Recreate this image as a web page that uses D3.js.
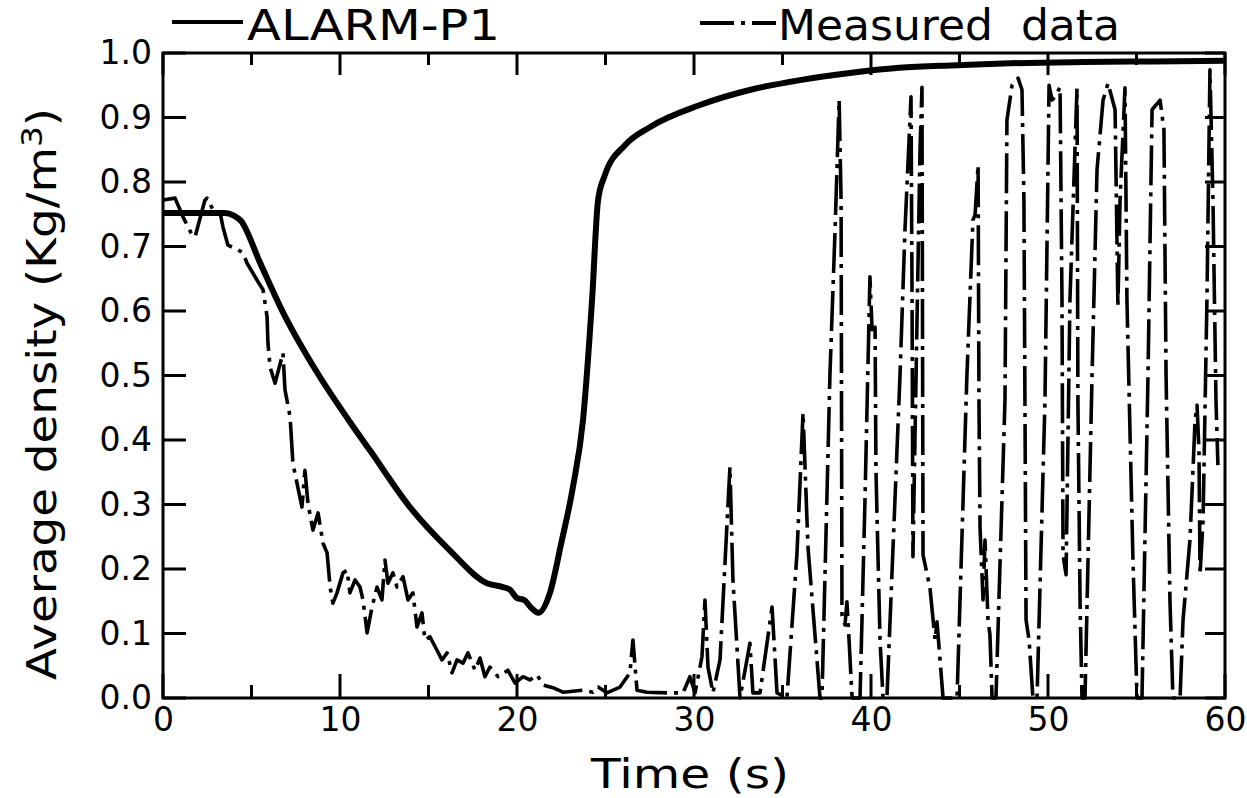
<!DOCTYPE html>
<html>
<head>
<meta charset="utf-8">
<script src="https://d3js.org/d3.v7.min.js"></script>
<style>
    body { margin: 0; background: #fff; }
    text { font-family: "DejaVu Sans", sans-serif; fill: #000; }
    .domain { display: none; }
</style>
</head>
<body>
<svg></svg>
<script>
// ALARM-P1 calculation (thick solid line)
const alarmT = [0, 2, 3.5, 4.0, 4.4, 5.48, 6.78, 8.7, 10.56, 11.69, 13.95, 16.2, 18.3, 19.2, 19.6, 20.0, 20.4, 20.8, 21.2,
    21.86, 22.5, 23.16, 23.73, 24.24, 24.58, 24.97, 26.1, 27.5, 30.3, 33.2, 36.0, 38.8, 41.6, 44.9, 47.85, 52, 56, 60];
const alarmV = [0.752, 0.752, 0.752, 0.748, 0.74, 0.675, 0.598, 0.505, 0.428, 0.384, 0.296, 0.229, 0.178, 0.172, 0.168, 0.155, 0.152, 0.14, 0.132,
    0.163, 0.24, 0.327, 0.431, 0.617, 0.772, 0.811, 0.857, 0.885, 0.919, 0.943, 0.958, 0.969, 0.977, 0.981, 0.984, 0.986, 0.987, 0.988];

// Measured data (dash-dot line)
const measT = [0, 0.68, 1.13, 1.64, 1.81, 2.37, 2.49, 2.82, 3.22, 3.39, 3.67, 4.24, 4.52, 4.75, 5.31, 5.65, 5.88, 5.93, 6.05, 6.33,
    6.78, 6.89, 7.18, 7.34, 7.57, 7.85, 8.02, 8.19, 8.47, 8.76, 9.04, 9.27, 9.44, 9.6, 9.83, 10.17, 10.4, 10.56, 10.85, 11.13,
    11.3, 11.53, 11.81, 12.09, 12.37, 12.54, 12.71, 12.99, 13.22, 13.56, 13.84, 14.12, 14.35, 14.63, 14.8, 15.08, 15.48, 15.76, 16.05, 16.33,
    16.61, 16.95, 17.23, 17.63, 17.91, 18.19, 18.47, 18.93, 19.49, 19.89, 20.34, 20.73, 21.13, 21.47, 22.03, 22.6, 23.73, 24.29, 24.58, 25.08,
    25.82, 26.38, 26.55, 26.78, 27.34, 28.47, 29.38, 29.77, 30.06, 30.45, 30.62, 30.79, 31.07, 31.47, 32.03, 32.2, 32.6, 33.16, 33.33, 33.73,
    34.41, 34.69, 35.25, 35.82, 36.16, 36.44, 37.12, 37.23, 37.68, 37.97, 38.2, 38.31, 38.36, 38.53, 38.64, 38.76, 38.93, 39.38, 39.66, 39.94,
    40.06, 40.23, 40.28, 40.4, 40.51, 40.68, 40.9, 41.64, 41.92, 42.26, 42.32, 42.37, 42.6, 42.77, 42.88, 42.94, 43.33, 43.62, 43.73, 43.9,
    44.07, 44.86, 45.42, 45.76, 45.88, 46.05, 46.1, 46.16, 46.33, 46.44, 46.61, 46.72, 46.84, 47.06, 47.57, 47.68, 47.97, 48.31, 48.53, 48.64,
    48.76, 48.93, 49.15, 49.38, 49.83, 50.06, 50.23, 50.4, 50.68, 50.79, 50.85, 51.02, 51.24, 51.64, 51.69, 51.81, 51.92, 52.09, 52.49, 52.77,
    53.11, 53.39, 53.79, 53.95, 54.07, 54.35, 54.46, 54.8, 55.03, 55.31, 55.65, 55.88, 56.33, 56.55, 56.67, 56.89, 57.06, 57.46, 57.63, 58.02,
    58.19, 58.31, 58.42, 58.53, 58.59, 58.76, 58.98, 59.15, 59.32, 59.49, 59.6];
const measV = [0.772, 0.775, 0.746, 0.718, 0.715, 0.772, 0.775, 0.757, 0.753, 0.73, 0.702, 0.695, 0.69, 0.674, 0.648, 0.633, 0.591, 0.55, 0.513, 0.488,
    0.535, 0.478, 0.436, 0.364, 0.333, 0.296, 0.353, 0.302, 0.26, 0.287, 0.24, 0.225, 0.172, 0.147, 0.163, 0.194, 0.198, 0.163, 0.183, 0.172,
    0.152, 0.101, 0.141, 0.172, 0.152, 0.214, 0.178, 0.194, 0.172, 0.188, 0.152, 0.163, 0.11, 0.132, 0.09, 0.095, 0.074, 0.059, 0.07, 0.039,
    0.059, 0.054, 0.07, 0.043, 0.062, 0.033, 0.048, 0.033, 0.043, 0.023, 0.033, 0.028, 0.036, 0.02, 0.016, 0.009, 0.012, 0.009, 0.017, 0.008,
    0.017, 0.039, 0.09, 0.012, 0.009, 0.008, 0.008, 0.033, 0.008, 0.064, 0.152, 0.048, 0.008, 0.059, 0.358, 0.183, 0.0, 0.085, 0.008, 0.008,
    0.141, 0.008, 0.0, 0.225, 0.442, 0.234, 0.0, 0.0, 0.501, 0.726, 0.927, 0.772, 0.129, 0.113, 0.149, 0.09, 0.0, 0.0, 0.307, 0.653,
    0.571, 0.575, 0.353, 0.214, 0.09, 0.0, 0.0, 0.501, 0.726, 0.932, 0.617, 0.219, 0.586, 0.85, 0.947, 0.222, 0.171, 0.09, 0.118, 0.059,
    0.0, 0.0, 0.501, 0.741, 0.749, 0.826, 0.462, 0.264, 0.152, 0.245, 0.121, 0.098, 0.0, 0.0, 0.462, 0.896, 0.95, 0.961, 0.943, 0.772,
    0.121, 0.09, 0.0, 0.0, 0.462, 0.95, 0.927, 0.932, 0.947, 0.617, 0.222, 0.191, 0.617, 0.946, 0.462, 0.152, 0.0, 0.0, 0.501, 0.819,
    0.927, 0.953, 0.912, 0.606, 0.772, 0.946, 0.617, 0.214, 0.0, 0.0, 0.501, 0.912, 0.927, 0.881, 0.501, 0.152, 0.0, 0.0, 0.121, 0.245,
    0.353, 0.431, 0.454, 0.384, 0.191, 0.276, 0.617, 0.974, 0.772, 0.462, 0.361];

const xMajor = [0, 10, 20, 30, 40, 50, 60];
const xMinor = [5, 15, 25, 35, 45, 55];
const yTicks = [0, 0.1, 0.2, 0.3, 0.4, 0.5, 0.6, 0.7, 0.8, 0.9, 1.0];

const W = 1247, H = 798;
const L = 163, R = 1225, T = 53, B = 698;

const svg = d3.select("svg").attr("width", W).attr("height", H);

const x = d3.scaleLinear().domain([0, 60]).range([L, R]);
const y = d3.scaleLinear().domain([0, 1]).range([B, T]);

// tick labels through d3 axes
svg.append("g").attr("transform", `translate(0,${B})`)
    .call(d3.axisBottom(x).tickValues(xMajor).tickSize(0).tickPadding(10))
    .call(g => g.selectAll("text").attr("font-size", 33).attr("font-family", "DejaVu Sans").attr("fill", "#000"));
svg.append("g").attr("transform", `translate(${L},0)`)
    .call(d3.axisLeft(y).tickValues(yTicks).tickSize(0).tickPadding(11).tickFormat(d3.format(".1f")))
    .call(g => g.selectAll("text").attr("font-size", 33).attr("font-family", "DejaVu Sans").attr("fill", "#000"));

// inward ticks, as thin filled rectangles
const tickRects = [];
xMajor.forEach(d => { tickRects.push([x(d) - 1.5, B - 24, 3, 24], [x(d) - 1.5, T, 3, 22]); });
xMinor.forEach(d => { tickRects.push([x(d) - 1.5, B - 13, 3, 13], [x(d) - 1.5, T, 3, 12]); });
yTicks.forEach(d => { tickRects.push([L, y(d) - 1.5, 23, 3], [R - 20, y(d) - 1.5, 20, 3]); });
svg.append("g").selectAll("rect").data(tickRects).join("rect")
    .attr("x", d => d[0]).attr("y", d => d[1]).attr("width", d => d[2]).attr("height", d => d[3])
    .attr("fill", "#000");

// frame
svg.append("rect")
    .attr("x", L).attr("y", T).attr("width", R - L).attr("height", B - T)
    .attr("fill", "none").attr("stroke", "#000").attr("stroke-width", 3);

// lines
const alarm = alarmT.map((t, i) => [t, alarmV[i]]);
const meas = measT.map((t, i) => [t, measV[i]]);

svg.append("path").datum(meas)
    .attr("fill", "none").attr("stroke", "#000").attr("stroke-width", 3.6)
    .attr("stroke-linejoin", "round")
    .attr("stroke-dasharray", "40,7,4,7")
    .attr("d", d3.line().x(d => x(d[0])).y(d => y(d[1])));

svg.append("path").datum(alarm)
    .attr("fill", "none").attr("stroke", "#000").attr("stroke-width", 6)
    .attr("d", d3.line().curve(d3.curveMonotoneX).x(d => x(d[0])).y(d => y(d[1])));

// legend
svg.append("line").attr("x1", 172).attr("x2", 243).attr("y1", 22).attr("y2", 22)
    .attr("stroke", "#000").attr("stroke-width", 4);
svg.append("text").attr("x", 247).attr("y", 40).attr("font-size", 42)
    .attr("textLength", 253).attr("lengthAdjust", "spacingAndGlyphs").text("ALARM-P1");

svg.append("line").attr("x1", 700).attr("x2", 776).attr("y1", 23).attr("y2", 23)
    .attr("stroke", "#000").attr("stroke-width", 4).attr("stroke-dasharray", "34,7,4,7");
svg.append("text").attr("x", 778).attr("y", 40).attr("font-size", 42)
    .attr("textLength", 342).attr("lengthAdjust", "spacingAndGlyphs")
    .attr("xml:space", "preserve").text("Measured  data");

// axis titles
svg.append("text").attr("x", 690).attr("y", 788).attr("font-size", 40)
    .attr("text-anchor", "middle").attr("textLength", 198).attr("lengthAdjust", "spacingAndGlyphs")
    .text("Time (s)");

const yl = svg.append("text")
    .attr("transform", "translate(56,394) rotate(-90)")
    .attr("text-anchor", "middle").attr("font-size", 40)
    .attr("textLength", 572).attr("lengthAdjust", "spacingAndGlyphs");
yl.append("tspan").text("Average density (Kg/m");
yl.append("tspan").attr("dy", -14).attr("font-size", 28).text("3");
yl.append("tspan").attr("dy", 14).text(")");
</script>
</body>
</html>
